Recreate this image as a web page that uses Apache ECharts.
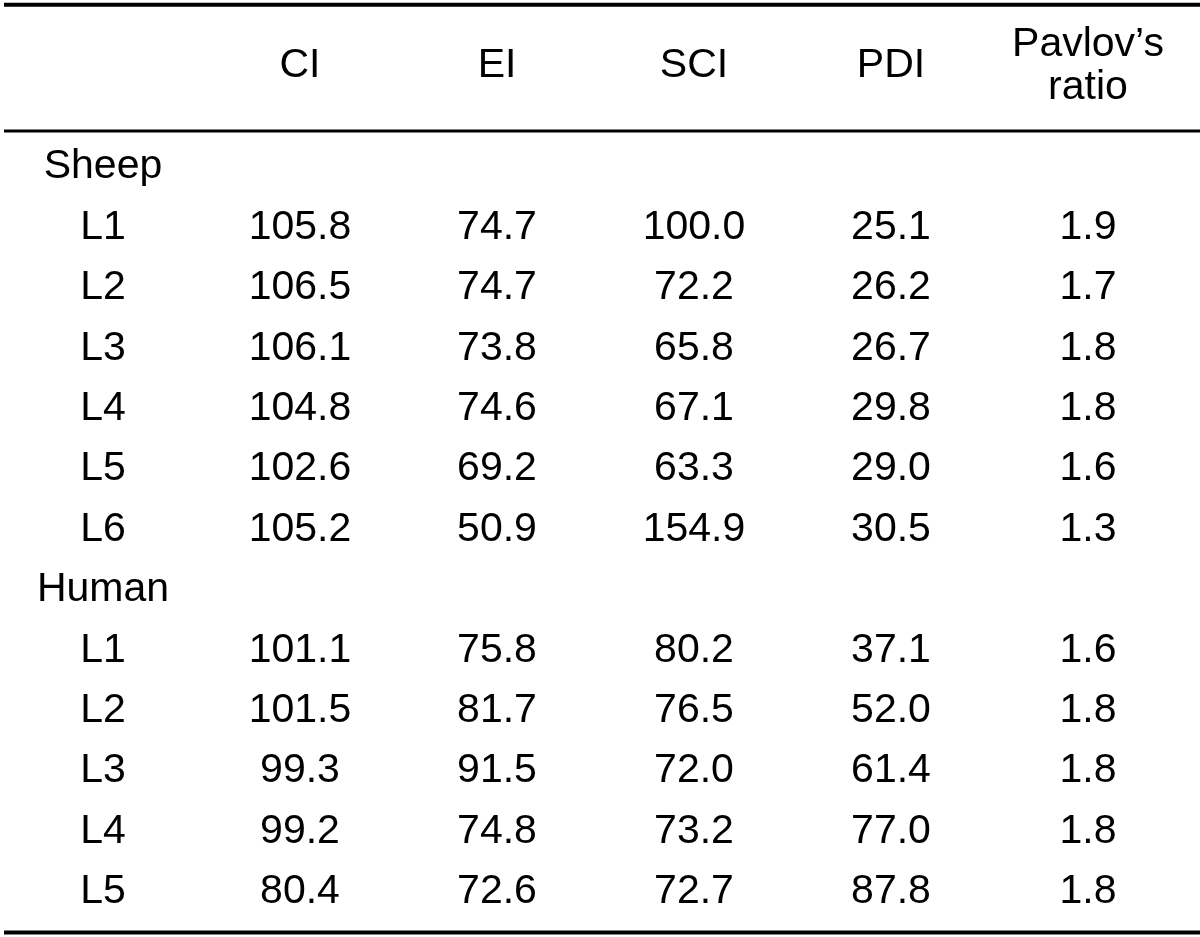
<!DOCTYPE html>
<html>
<head>
<meta charset="utf-8">
<script src="https://cdn.jsdelivr.net/npm/echarts@6/dist/echarts.min.js"></script>
<style>
html,body{margin:0;padding:0;background:#fff;}
#chart{width:1200px;height:937px;}
</style>
</head>
<body>
<div id="chart"></div>
<script>
// ---- data ----
var columns = ['CI', 'EI', 'SCI', 'PDI', 'Pavlov\u2019s\nratio'];
var groups = ['Sheep', 'Human'];
var sheepLines = ['L1', 'L2', 'L3', 'L4', 'L5', 'L6'];
var humanLines = ['L1', 'L2', 'L3', 'L4', 'L5'];

var sheepCI     = [105.8, 106.5, 106.1, 104.8, 102.6, 105.2];
var sheepEI     = [74.7, 74.7, 73.8, 74.6, 69.2, 50.9];
var sheepSCI    = [100.0, 72.2, 65.8, 67.1, 63.3, 154.9];
var sheepPDI    = [25.1, 26.2, 26.7, 29.8, 29.0, 30.5];
var sheepPavlov = [1.9, 1.7, 1.8, 1.8, 1.6, 1.3];

var humanCI     = [101.1, 101.5, 99.3, 99.2, 80.4];
var humanEI     = [75.8, 81.7, 91.5, 74.8, 72.6];
var humanSCI    = [80.2, 76.5, 72.0, 73.2, 72.7];
var humanPDI    = [37.1, 52.0, 61.4, 77.0, 87.8];
var humanPavlov = [1.6, 1.8, 1.8, 1.8, 1.8];

// ---- build table cells ----
var sheepCols = [sheepCI, sheepEI, sheepSCI, sheepPDI, sheepPavlov];
var humanCols = [humanCI, humanEI, humanSCI, humanPDI, humanPavlov];

var rowLabels = [];
var valueCells = [];
var row = 0;
function addGroup(name, lines, cols) {
  rowLabels.push([0, row, name]);
  row++;
  lines.forEach(function (ln, i) {
    rowLabels.push([0, row, ln]);
    cols.forEach(function (arr, c) {
      valueCells.push([c + 1, row, arr[i]]);
    });
    row++;
  });
}
addGroup(groups[0], sheepLines, sheepCols);
addGroup(groups[1], humanLines, humanCols);

var rowKeys = [];
for (var r = 0; r < row; r++) rowKeys.push(String(r));

var FONT = '"Liberation Sans", Arial, sans-serif';
var FS = 41;

var xData = [''].concat(columns);

var chart = echarts.init(document.getElementById('chart'), null, { renderer: 'canvas' });
chart.setOption({
  animation: false,
  backgroundColor: '#ffffff',
  grid: { left: 4.5, top: 136.8, width: 1182, height: 785.2, containLabel: false, outerBoundsMode: 'none' },
  xAxis: {
    type: 'category',
    position: 'top',
    data: xData,
    boundaryGap: true,
    axisLine: { show: false },
    axisTick: { show: false },
    splitLine: { show: false },
    axisLabel: {
      interval: 0,
      margin: 70.8,
      verticalAlign: 'middle',
      fontSize: FS,
      lineHeight: 43,
      color: '#000',
      fontFamily: FONT
    }
  },
  yAxis: {
    type: 'category',
    inverse: true,
    data: rowKeys,
    show: false
  },
  series: [
    {
      type: 'scatter',
      name: 'rows',
      data: rowLabels,
      symbolSize: 0,
      silent: true,
      itemStyle: { opacity: 1 },
      label: {
        show: true,
        position: 'inside',
        formatter: function (p) { return p.value[2]; },
        fontSize: FS,
        color: '#000',
        fontFamily: FONT
      }
    },
    {
      type: 'scatter',
      name: 'values',
      data: valueCells,
      symbolSize: 0,
      silent: true,
      itemStyle: { opacity: 1 },
      label: {
        show: true,
        position: 'inside',
        formatter: function (p) { return p.value[2].toFixed(1); },
        fontSize: FS,
        color: '#000',
        fontFamily: FONT
      }
    }
  ],
  graphic: [
    { type: 'rect', shape: { x: 4, y: 2.7, width: 1196, height: 4 }, style: { fill: '#000' }, silent: true },
    { type: 'rect', shape: { x: 4, y: 129.5, width: 1196, height: 3 }, style: { fill: '#000' }, silent: true },
    { type: 'rect', shape: { x: 4, y: 930.5, width: 1196, height: 4 }, style: { fill: '#000' }, silent: true }
  ]
});
</script>
</body>
</html>
